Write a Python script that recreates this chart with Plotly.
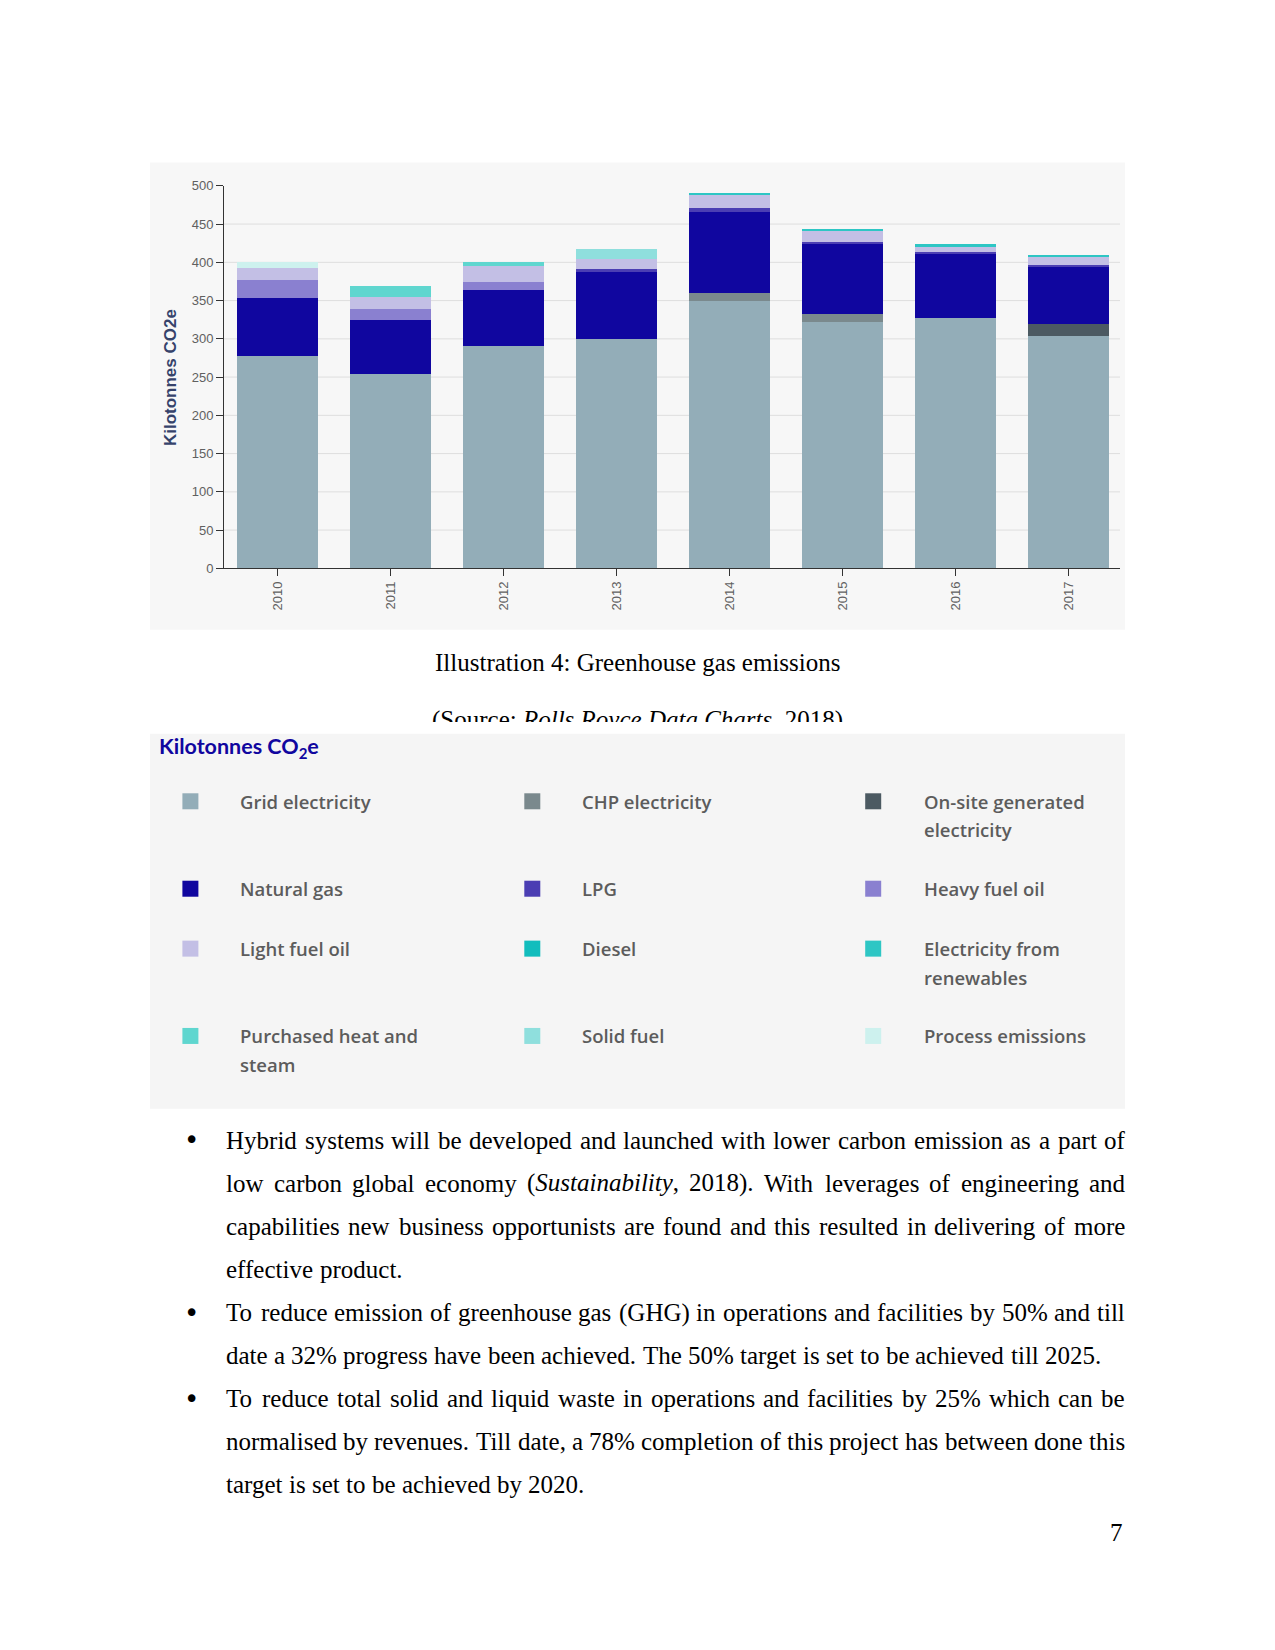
import plotly.graph_objects as go

# ---------------- data ----------------
years = ["2010", "2011", "2012", "2013", "2014", "2015", "2016", "2017"]
grid_electricity = [277, 254, 290, 300, 349, 322, 327, 304]
chp_electricity = [0, 0, 0, 0, 11, 10, 0, 0]
onsite_electricity = [0, 0, 0, 0, 0, 0, 0, 15]
natural_gas = [77, 71, 74, 88, 106, 93, 85, 76]
lpg = [0, 0, 0, 3, 5, 1.5, 1.5, 1.5]
heavy_fuel_oil = [23, 14, 10, 0, 0, 0, 0, 0]
light_fuel_oil = [16, 16, 21, 14, 17, 15, 8, 11]
diesel = [0, 0, 0, 0, 0, 0, 0, 0]
electricity_renewables = [0, 0, 0, 0, 3, 1, 2, 1.5]
purchased_heat = [0, 14, 5, 0, 0, 0, 0, 0]
solid_fuel = [0, 0, 0, 13, 0, 0, 0, 0]
process_emissions = [8, 0, 0, 0, 0, 0, 0, 0]

y_ticks = [0, 50, 100, 150, 200, 250, 300, 350, 400, 450, 500]

series_names = ["Grid electricity", "CHP electricity", "On-site generated\nelectricity",
                "Natural gas", "LPG", "Heavy fuel oil",
                "Light fuel oil", "Diesel", "Electricity from\nrenewables",
                "Purchased heat and\nsteam", "Solid fuel", "Process emissions"]
series_values = [grid_electricity, chp_electricity, onsite_electricity,
                 natural_gas, lpg, heavy_fuel_oil,
                 light_fuel_oil, diesel, electricity_renewables,
                 purchased_heat, solid_fuel, process_emissions]
series_colors = ["#93adb8", "#7a898d", "#4c5a62",
                 "#10069f", "#4b3eb3", "#8a80d0",
                 "#c3bfe5", "#12bdbd", "#2ec6c4",
                 "#5fd6cf", "#8fdfdd", "#cdf1ee"]

caption = "Illustration 4: Greenhouse gas emissions"
source_text = "(Source: <i>Rolls Royce Data Charts</i>, 2018)"
legend_title = "Kilotonnes CO<sub>2</sub>e"
axis_title = "Kilotonnes CO2e"

paragraph_lines = [
    ("Hybrid systems will be developed and launched with lower carbon emission as a part of", True, True),
    ("low carbon global economy (<i>Sustainability</i>, 2018). With leverages of engineering and", True, False),
    ("capabilities new business opportunists are found and this resulted in delivering of more", True, False),
    ("effective product.", False, False),
    ("To reduce emission of greenhouse gas (GHG) in operations and facilities by 50% and till", True, True),
    ("date a 32% progress have been achieved. The 50% target is set to be achieved till 2025.", False, False),
    ("To reduce total solid and liquid waste in operations and facilities by 25% which can be", True, True),
    ("normalised by revenues. Till date, a 78% completion of this project has between done this", True, False),
    ("target is set to be achieved by 2020.", False, False),
]
page_number = "7"

# ---------------- page geometry helpers ----------------
OFF_X = 8
W = 1275 - 2 * OFF_X
H = 1620
# empirical vertical placement of the figure in the photographed page
Y_TOP = 14.5
Y_SCALE = 0.9905


def X(p):
    return (p - OFF_X) / W


def Y(p):
    return 1 - ((p - Y_TOP) / Y_SCALE) / H


# Times (Liberation Serif) metrics
ROMAN = {' ': 250, '!': 333, '%': 833, '(': 333, ')': 333, ',': 250, '-': 333, '.': 250,
         ':': 278, ';': 278, '?': 444}
for c in "0123456789":
    ROMAN[c] = 500
ROMAN.update(dict(zip("ABCDEFGHIJKLMNOPQRSTUVWXYZ",
                      [722, 667, 667, 722, 611, 556, 722, 722, 333, 389, 722, 611, 889,
                       722, 722, 556, 722, 667, 556, 611, 722, 722, 944, 722, 722, 611])))
ROMAN.update(dict(zip("abcdefghijklmnopqrstuvwxyz",
                      [444, 500, 444, 500, 444, 333, 500, 500, 278, 278, 500, 278, 778,
                       500, 500, 500, 500, 333, 389, 278, 500, 500, 722, 500, 500, 444])))
ITALIC = dict(ROMAN)
ITALIC.update(dict(zip("abcdefghijklmnopqrstuvwxyz",
                       [500, 500, 444, 500, 444, 278, 500, 500, 278, 278, 444, 278, 722,
                        500, 500, 500, 500, 389, 389, 278, 500, 444, 667, 444, 444, 389])))
ITALIC['S'] = 500


def word_width(w, size=25):
    total = 0
    italic = False
    i = 0
    while i < len(w):
        if w.startswith("<i>", i):
            italic = True
            i += 3
            continue
        if w.startswith("</i>", i):
            italic = False
            i += 4
            continue
        tbl = ITALIC if italic else ROMAN
        total += tbl.get(w[i], 500)
        i += 1
    return total * size / 1000.0


# ---------------- figure ----------------
fig = go.Figure()
for name, vals, col in zip(series_names, series_values, series_colors):
    fig.add_trace(go.Bar(x=years, y=vals, name=name.replace("\n", " "),
                         marker=dict(color=col, line=dict(width=0)),
                         showlegend=False))

PLOT_L, PLOT_R, PLOT_T, PLOT_B = 224, 1120, 185.3, 567.7
TICKFONT = dict(family="Liberation Sans", size=13, color="#606060")

fig.update_layout(
    width=W, height=H,
    margin=dict(l=0, r=0, t=0, b=0),
    paper_bgcolor="white",
    plot_bgcolor="rgba(0,0,0,0)",
    barmode="stack",
    bargap=0.283,
    xaxis=dict(domain=[X(PLOT_L), X(PLOT_R)], type="category", range=[-0.473, 7.456],
               showline=True, linecolor="#333333", linewidth=1,
               ticks="outside", ticklen=7, tickcolor="#333333",
               tickangle=-90, tickfont=TICKFONT, showgrid=False),
    yaxis=dict(domain=[Y(PLOT_B), Y(PLOT_T)], range=[0, 500],
               tickvals=y_ticks, showline=True, linecolor="#333333", linewidth=1,
               ticks="outside", ticklen=7, tickcolor="#333333",
               tickfont=TICKFONT, showgrid=False, zeroline=False),
    font=dict(family="Liberation Serif"),
)

shapes = []
annotations = []

# chart background box
shapes.append(dict(type="rect", xref="paper", yref="paper", layer="below",
                   x0=X(150), x1=X(1125), y0=Y(629), y1=Y(162),
                   fillcolor="#f7f7f7", line=dict(width=0)))
# legend background box
shapes.append(dict(type="rect", xref="paper", yref="paper", layer="below",
                   x0=X(150), x1=X(1125), y0=Y(1108), y1=Y(733),
                   fillcolor="#f5f5f5", line=dict(width=0)))
# horizontal gridlines (inner ticks only, like the reference)
for v in y_ticks[1:-1]:
    shapes.append(dict(type="line", xref="x domain", yref="y", layer="below",
                       x0=0, x1=1, y0=v, y1=v, line=dict(color="#dedede", width=1)))

# y-axis title
annotations.append(dict(text=axis_title, x=X(170), y=Y((PLOT_T + PLOT_B) / 2), xref="paper", yref="paper",
                        textangle=-90, showarrow=False, xanchor="center", yanchor="middle",
                        font=dict(family="Liberation Sans", size=17, color="#36436b", weight="bold")))

# caption
annotations.append(dict(text=caption, x=X(637.5), y=Y(662), xref="paper", yref="paper",
                        showarrow=False, xanchor="center", yanchor="middle",
                        font=dict(family="Liberation Serif", size=25, color="black")))
# clipped source line (partly hidden by the legend picture's white margin)
annotations.append(dict(text=source_text, x=X(637.5), y=Y(704), xref="paper", yref="paper",
                        showarrow=False, xanchor="center", yanchor="top", valign="top",
                        height=16, borderpad=0,
                        font=dict(family="Liberation Serif", size=25, color="black")))

# legend
annotations.append(dict(text=legend_title, x=X(157), y=Y(747), xref="paper", yref="paper",
                        showarrow=False, xanchor="left", yanchor="middle",
                        font=dict(family="Lato", size=21.5, color="#10069f", weight="bold")))
col_sq = [190.4, 532.3, 873.2]
col_tx = [238.8, 580.7, 922.6]
row_y = [800.6, 888.0, 947.9, 1035.2]
SQ = 16
for i, (name, col) in enumerate(zip(series_names, series_colors)):
    r, c = divmod(i, 3)
    cy = row_y[r]
    shapes.append(dict(type="rect", xref="paper", yref="paper", layer="above",
                       x0=X(col_sq[c] - SQ / 2), x1=X(col_sq[c] + SQ / 2),
                       y0=Y(cy + SQ / 2), y1=Y(cy - SQ / 2),
                       fillcolor=col, line=dict(width=0)))
    for k, part in enumerate(name.split("\n")):
        annotations.append(dict(text=part, x=X(col_tx[c]), y=Y(cy + k * 28.4), xref="paper", yref="paper",
                                showarrow=False, xanchor="left", yanchor="middle", borderpad=0,
                                font=dict(family="Open Sans", size=18.5, color="#5c5c5c", weight=600)))

# paragraphs
TEXT_L, TEXT_R = 225, 1124
line_y0 = 1139.3
LINE_H = 43.1
for li, (line, justify, bullet) in enumerate(paragraph_lines):
    cy = line_y0 + li * LINE_H
    if bullet:
        annotations.append(dict(text="•", x=X(191.5), y=Y(cy), xref="paper", yref="paper",
                                showarrow=False, xanchor="center", yanchor="middle", borderpad=0,
                                font=dict(family="DejaVu Sans", size=26, color="black")))
    words = line.split(" ")
    widths = [word_width(w) for w in words]
    if justify and len(words) > 1:
        gap = (TEXT_R - TEXT_L - sum(widths)) / (len(words) - 1)
    else:
        gap = word_width(" ")
    xpos = TEXT_L
    for w, wd in zip(words, widths):
        annotations.append(dict(text=w, x=X(xpos), y=Y(cy), xref="paper", yref="paper",
                                showarrow=False, xanchor="left", yanchor="middle", borderpad=0,
                                font=dict(family="Liberation Serif", size=25, color="black")))
        xpos += wd + gap

annotations.append(dict(text=page_number, x=X(1124), y=Y(1532), xref="paper", yref="paper",
                        showarrow=False, xanchor="right", yanchor="middle", borderpad=0,
                        font=dict(family="Liberation Serif", size=25, color="black")))

fig.update_layout(shapes=shapes, annotations=annotations)
fig.write_html("out.html")
